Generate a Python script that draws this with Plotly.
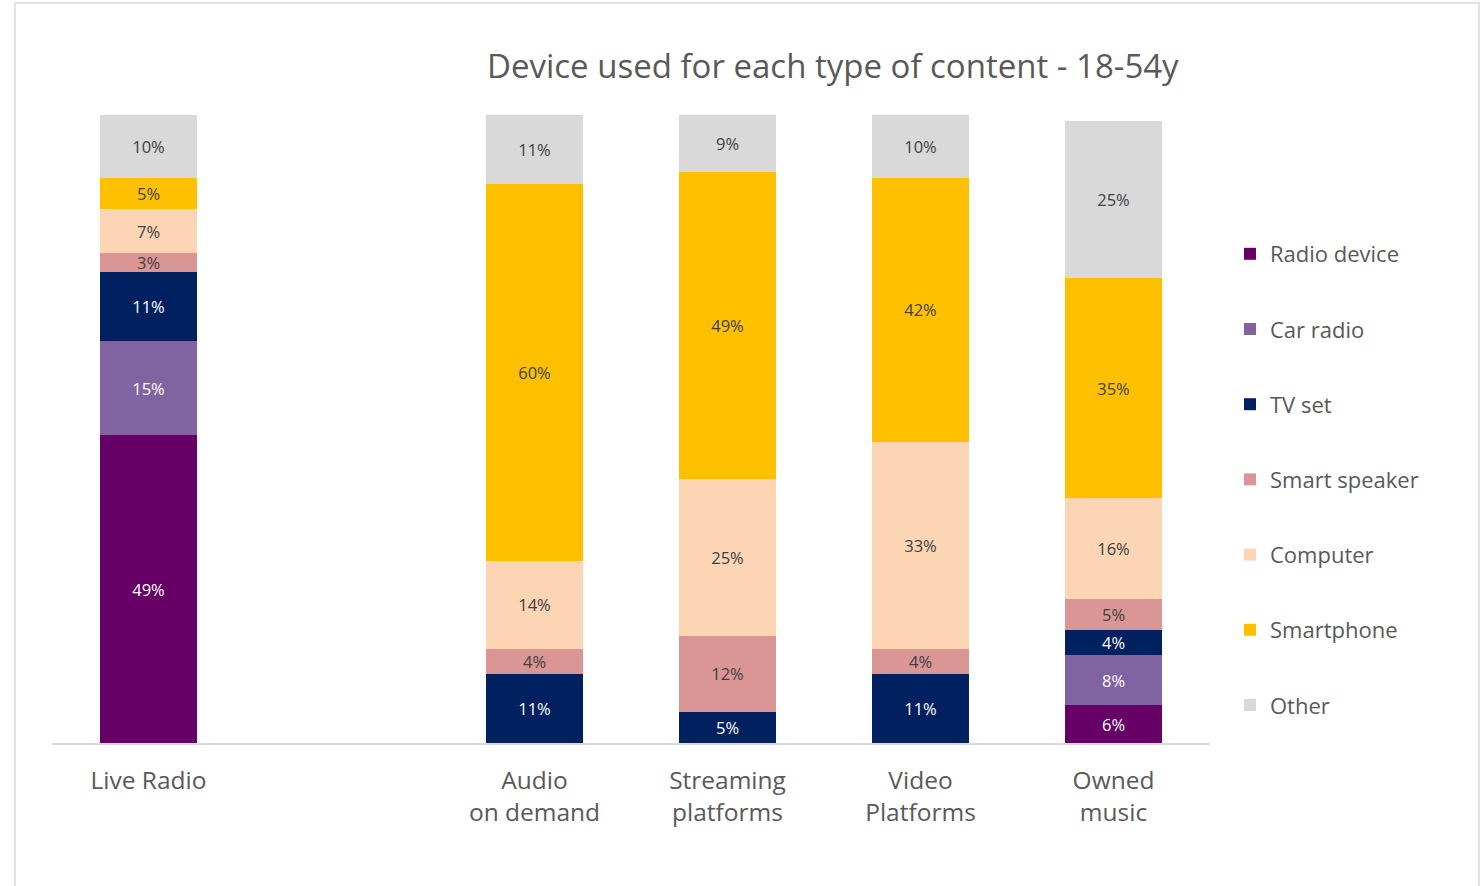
import plotly.graph_objects as go

# Content types (one empty slot after Live Radio)
categories = ["Live Radio", "", "Audio<br>on demand", "Streaming<br>platforms",
              "Video<br>Platforms", "Owned<br>music"]
positions = [0, 1, 2, 3, 4, 5]

devices = ["Radio device", "Car radio", "TV set", "Smart speaker",
           "Computer", "Smartphone", "Other"]

radio_device = [49, None, None, None, None, 6]
car_radio = [15, None, None, None, None, 8]
tv_set = [11, None, 11, 5, 11, 4]
smart_speaker = [3, None, 4, 12, 4, 5]
computer = [7, None, 14, 25, 33, 16]
smartphone = [5, None, 60, 49, 42, 35]
other = [10, None, 11, 9, 10, 25]

series = [radio_device, car_radio, tv_set, smart_speaker, computer, smartphone, other]
colors = ["#660066", "#8064A2", "#002060", "#DA9694", "#FCD5B4", "#FFC000", "#D9D9D9"]
text_colors = ["#FFFFFF", "#FFFFFF", "#FFFFFF", "#404040", "#404040", "#404040", "#404040"]

FONT = "Open Sans"
GREY = "#595959"

fig = go.Figure()
for name, vals, col, tcol in zip(devices, series, colors, text_colors):
    fig.add_trace(go.Bar(
        x=positions, y=vals, name=name, legendgroup=name,
        marker=dict(color=col, line=dict(width=0)),
        width=0.5,
        text=[f"{v}%" if v else "" for v in vals],
        textposition="inside", insidetextanchor="middle", textangle=0,
        textfont=dict(family=FONT, size=16.5, color=tcol),
        hoverinfo="skip",
    ))

W, H = 1484, 886
L, R, T, B = 52, 274, 115, 143
pw, ph = W - L - R, H - T - B

def px_x(x):
    return (x - L) / pw

def px_y(y):
    return (H - B - y) / ph

fig.update_layout(
    width=W, height=H,
    margin=dict(l=L, r=R, t=T, b=B),
    barmode="stack", bargap=0.5,
    plot_bgcolor="white", paper_bgcolor="white",
    font=dict(family=FONT, color=GREY),
    uniformtext=dict(minsize=16.5, mode="show"),
    xaxis=dict(
        range=[-0.5, 5.5], tickmode="array", tickvals=positions, ticktext=categories,
        showline=True, linecolor="#D9D9D9", linewidth=1.5, showgrid=False,
        ticks="", ticklabelstandoff=15,
        tickfont=dict(family=FONT, size=24.5, color=GREY), fixedrange=True,
    ),
    yaxis=dict(range=[0, 100], visible=False, showgrid=False, fixedrange=True),
    legend=dict(
        x=px_x(1230), y=px_y(233), xanchor="left", yanchor="top",
        traceorder="grouped", tracegroupgap=43.6,
        font=dict(family=FONT, size=22, color=GREY),
        itemclick=False, itemdoubleclick=False,
    ),
    showlegend=True,
)

fig.add_annotation(
    text="Device used for each type of content - 18-54y",
    xref="paper", yref="paper", x=px_x(833), y=px_y(66),
    xanchor="center", yanchor="middle", showarrow=False,
    font=dict(family=FONT, size=33, color=GREY),
)

# Chart frame
fig.add_shape(
    type="rect", xref="paper", yref="paper",
    x0=px_x(15), x1=px_x(1479), y0=px_y(895), y1=px_y(3),
    line=dict(color="#D9D9D9", width=1.5), fillcolor="rgba(0,0,0,0)", layer="below",
)

fig.write_html("out.html")
